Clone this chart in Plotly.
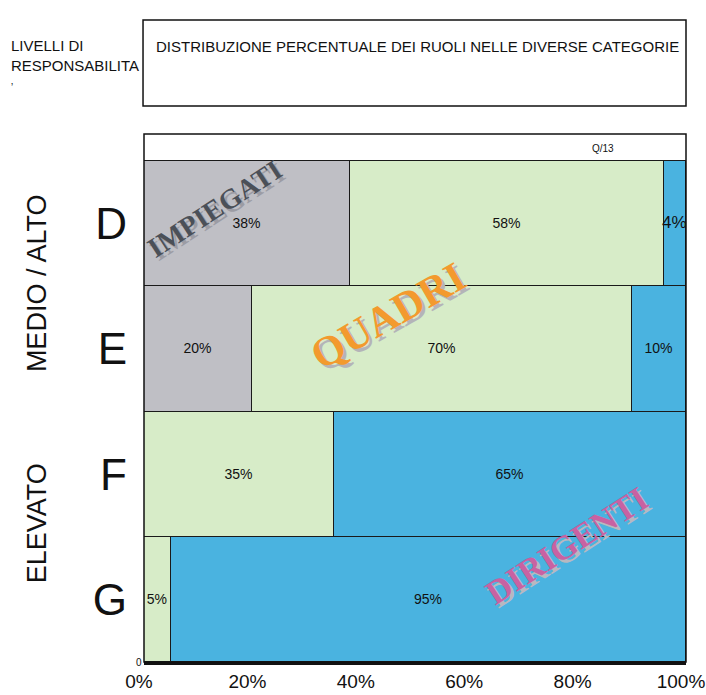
import plotly.graph_objects as go

# Livelli di responsabilità (dall'alto verso il basso) e quote per ruolo
categories = ["D", "E", "F", "G"]
impiegati = [38, 20, 0, 0]
quadri = [58, 70, 35, 5]
dirigenti = [4, 10, 65, 95]
x_ticks = [0, 20, 40, 60, 80, 100]
x_tick_labels = ["0%", "20%", "40%", "60%", "80%", "100%"]

# posizione numerica di ogni barra: G in basso, D in alto
ypos = [len(categories) - i - 0.5 for i in range(len(categories))]

GRAY = "#bfbfc5"
GREEN = "#d7ecc8"
BLUE = "#4ab3e0"

def labels(vals):
    return [f"{v}%" if v > 0 else "" for v in vals]

fig = go.Figure()
series = [("IMPIEGATI", impiegati, GRAY), ("QUADRI", quadri, GREEN), ("DIRIGENTI", dirigenti, BLUE)]
for name, vals, col in series:
    sizes = [17 if v == 4 else 14 for v in vals]
    fig.add_trace(go.Bar(
        y=ypos, x=vals, name=name, orientation="h", width=1,
        marker=dict(color=col, line=dict(color="#1a1a1a", width=1.2)),
        text=labels(vals), textposition="inside", insidetextanchor="middle",
        textangle=0, constraintext="none",
        textfont=dict(family="Liberation Sans", size=sizes, color="#111111"),
        hoverinfo="skip",
    ))

ann = []

def role_label(text, x, y, size, color, shadow, angle):
    ann.append(dict(text=text, x=x, y=y, xref="x", yref="y", showarrow=False,
                    textangle=angle, xshift=3, yshift=-3,
                    xanchor="center", yanchor="middle",
                    font=dict(family="Liberation Serif", size=size, color=shadow)))
    ann.append(dict(text=text, x=x, y=y, xref="x", yref="y", showarrow=False,
                    textangle=angle, xanchor="center", yanchor="middle",
                    font=dict(family="Liberation Serif", size=size, color=color)))

role_label("<b>IMPIEGATI</b>", 13.1, 3.62, 28, "#4b5058", "#9c9ca4", -33)
role_label("<b>QUADRI</b>", 45.0, 2.76, 42, "#f39a2e", "#b4b4b8", -30)
role_label("<b>DIRIGENTI</b>", 78.0, 0.93, 34, "#c862a2", "#b8b8c0", -33)

def note(text, x, y, size, angle=0, xanchor="center"):
    return dict(text=text, x=x, y=y, xref="paper", yref="paper", showarrow=False,
                textangle=angle, xanchor=xanchor, yanchor="middle", align="left",
                font=dict(family="Liberation Sans", size=size, color="#111111"))

# intestazioni e testi di contorno
ann += [
    note("DISTRIBUZIONE PERCENTUALE DEI RUOLI NELLE DIVERSE CATEGORIE", 0.0185, 1.165, 15,
         xanchor="left"),
    note("LIVELLI DI<br>RESPONSABILITA", -0.249, 1.148, 15, xanchor="left"),
    note("ʼ", -0.243, 1.088, 10),
    note("MEDIO / ALTO", -0.197, 0.718, 27, angle=-90),
    note("ELEVATO", -0.197, 0.263, 27, angle=-90),
    note("Q/13", 0.847, 0.973, 10),
    note("0", -0.009, 0.0, 10),
]

shapes = [
    # riquadro del titolo
    dict(type="rect", xref="paper", yref="paper", x0=-0.0018, x1=1.0, y0=1.053, y1=1.216,
         line=dict(color="#111111", width=1.5), fillcolor="rgba(0,0,0,0)"),
    # cornice dell'area del grafico
    dict(type="rect", xref="x domain", yref="y domain", x0=0, x1=1, y0=0, y1=1,
         line=dict(color="#111111", width=1.5), fillcolor="rgba(0,0,0,0)"),
]

fig.update_layout(
    width=706, height=695,
    margin=dict(l=144, r=20, t=134, b=33, autoexpand=False),
    barmode="stack", bargap=0,
    showlegend=False,
    plot_bgcolor="white", paper_bgcolor="white",
    annotations=ann, shapes=shapes,
    xaxis=dict(range=[0, 100], tickvals=x_ticks, ticktext=x_tick_labels,
               automargin=False, ticklabeloverflow="allow", ticklabelshift=-5,
               showgrid=False, zeroline=False, showline=True, linecolor="#111111", linewidth=3,
               ticks="", tickfont=dict(family="Liberation Sans", size=19, color="#111111")),
    yaxis=dict(range=[0, 4.216], tickvals=ypos, ticktext=categories,
               automargin=False,
               showgrid=False, zeroline=False, showline=False, ticks="",
               ticklabelstandoff=16,
               tickfont=dict(family="Liberation Sans", size=44, color="#111111")),
)

fig.write_html("out.html")
